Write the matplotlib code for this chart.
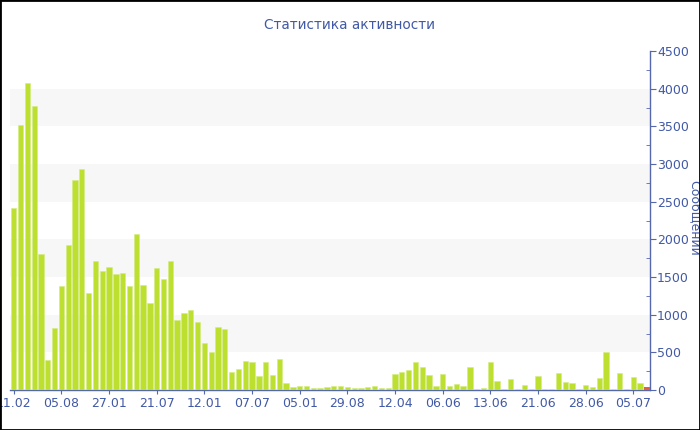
import matplotlib
matplotlib.use("Agg")
import matplotlib.pyplot as plt
from matplotlib.patches import Rectangle
from matplotlib.ticker import MultipleLocator

values = [2420, 3518, 4080, 3770, 1805, 398, 827, 1385, 1929, 2788,
          2934, 1283, 1712, 1580, 1637, 1544, 1558, 1381, 2075, 1390,
          1151, 1624, 1478, 1712, 929, 1022, 1058, 903, 620, 502,
          836, 805, 235, 279, 385, 367, 186, 372, 199, 407,
          89, 44, 53, 49, 22, 27, 40, 53, 53, 40,
          31, 31, 35, 49, 31, 22, 212, 243, 261, 372,
          301, 195, 53, 212, 53, 75, 58, 305, 18, 27,
          372, 119, 18, 142, 18, 71, 18, 190, 15, 15,
          221, 106, 97, 18, 66, 35, 159, 509, 18, 221,
          14, 173, 97]
current_value = [35]
tick_labels = ["11.02", "05.08", "27.01", "21.07", "12.01", "07.07", "05.01",
               "29.08", "12.04", "06.06", "13.06", "21.06", "28.06", "05.07"]
title = "Статистика активности"
ylabel = "Сообщений"

text_color = "#4159a6"
axis_color = "#5668ad"
bar_color = "#bde030"
cur_color = "#e5603a"

plt.rcParams['font.family'] = ['DejaVu Sans']

fig = plt.figure(figsize=(7, 4.3), dpi=100)
ax = fig.add_axes([10/700, 40/430, 640/700, 339/430])

x = list(range(len(values)))
ax.bar(x, values, width=0.78, color=bar_color, edgecolor="#d3ec80", linewidth=0.4, zorder=3)
ax.bar([len(values)], current_value, width=0.78, color=cur_color, zorder=3)

ax.set_xlim(-0.55, 93.45)
ax.set_ylim(0, 4500)

# alternating bands
for lo in range(500, 4500, 1000):
    ax.axhspan(lo, lo + 500, color="#f7f7f7", zorder=0, lw=0)

ax.set_xticks(range(0, 7 * len(tick_labels), 7))
ax.set_xticklabels(tick_labels)

ax.yaxis.tick_right()
ax.yaxis.set_major_locator(MultipleLocator(500))
ax.yaxis.set_minor_locator(MultipleLocator(250))

for s in ["left", "top"]:
    ax.spines[s].set_visible(False)
for s in ["right", "bottom"]:
    ax.spines[s].set_color(axis_color)
    ax.spines[s].set_linewidth(1.0)

ax.tick_params(axis="x", colors=axis_color, labelcolor=text_color, labelsize=9, length=3, pad=2)
ax.tick_params(axis="y", which="major", colors=axis_color, labelcolor=text_color, labelsize=9, length=4, pad=1)
ax.tick_params(axis="y", which="minor", colors=axis_color, length=3, direction="in")

fig.text(349/700, 1 - 25/430, title, ha="center", va="center", fontsize=9.8, color=text_color)
fig.text(694/700, 1 - 218/430, ylabel, ha="center", va="center", rotation=270, fontsize=9, color=text_color)

fig.patches.append(Rectangle((0, 0), 1, 1, transform=fig.transFigure, fill=False,
                             edgecolor="black", linewidth=2, zorder=10))

fig.savefig("out.png", dpi=100)
